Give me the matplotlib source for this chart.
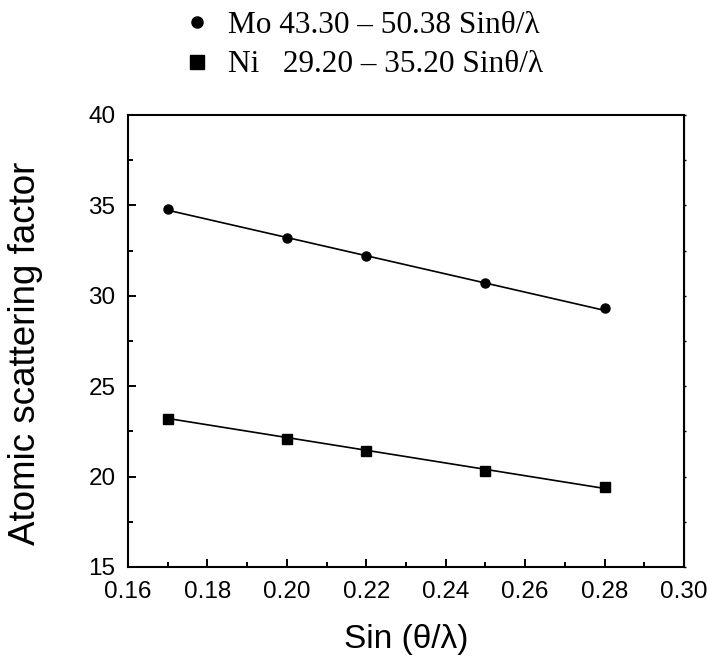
"""
Atomic scattering factor of Mo and Ni against sin(theta)/lambda
"""
import numpy as np
import matplotlib
matplotlib.use("Agg")
import matplotlib.pyplot as plt
from matplotlib.lines import Line2D

# measured points
sin_theta = [0.17, 0.20, 0.22, 0.25, 0.28]
mo_factor = [34.8, 33.2, 32.2, 30.7, 29.3]
ni_factor = [23.2, 22.1, 21.4, 20.3, 19.4]

# linear fits, f = a - b * sin(theta)/lambda
mo_fit = (43.30, 50.38)
ni_fit = (29.20, 35.20)

x_ticks = [0.16, 0.18, 0.20, 0.22, 0.24, 0.26, 0.28, 0.30]
y_ticks = [15, 20, 25, 30, 35, 40]

SANS = "Liberation Sans"
SERIF = "Liberation Serif"


def fit_line(ax, x, coef):
    """ Draw the fitted line a - b*x over the range of 'x' """
    xs = np.array([min(x), max(x)])
    ax.plot(xs, coef[0] - coef[1] * xs, color="black", lw=1.2, zorder=2)


fig = plt.figure(figsize=(7.08, 6.56), dpi=100)
ax = fig.add_axes([0.1808, 0.1357, 0.7853, 0.689])

ax.plot(sin_theta, mo_factor, ls="none", marker="o", ms=6.5,
        color="black", zorder=3)
ax.plot(sin_theta, ni_factor, ls="none", marker="s", ms=7,
        color="black", zorder=3)
fit_line(ax, sin_theta, mo_fit)
fit_line(ax, sin_theta, ni_fit)

ax.set_xlim(0.16, 0.30)
ax.set_ylim(15, 40)
ax.set_xticks(x_ticks)
ax.set_yticks(y_ticks)
ax.set_xticks(np.arange(0.17, 0.30, 0.02), minor=True)
ax.set_yticks(np.arange(17.5, 40, 5), minor=True)
ax.set_xticklabels([f"{t:.2f}" for t in x_ticks], family=SANS, fontsize=17.5)
ax.set_yticklabels([str(t) for t in y_ticks], family=SANS, fontsize=17.5)

ax.tick_params(which="both", direction="in", width=1.4, top=False, right=False)
ax.tick_params(which="major", length=6)
ax.tick_params(which="minor", length=3.5)
ax.tick_params(axis="y", pad=9)
ax.tick_params(axis="x", pad=10)
for side in ax.spines.values():
    side.set_linewidth(1.5)

# tiny ticks on the right frame
right = ax.secondary_yaxis("right")
right.set_yticks(y_ticks)
right.set_yticks(np.arange(17.5, 40, 5), minor=True)
right.tick_params(which="both", direction="out", length=1.5, width=1,
                  labelright=False)

ax.set_xlabel("Sin (θ/λ)", family=SANS, fontsize=24)
ax.set_ylabel("Atomic scattering factor", family=SANS, fontsize=26.5)
ax.xaxis.set_label_coords(0.5, -0.127)
ax.yaxis.set_label_coords(-0.153, 0.473)

handles = [
    Line2D([], [], ls="none", marker="o", ms=8, color="black"),
    Line2D([], [], ls="none", marker="s", ms=10.5, color="black"),
]
labels = [
    f"Mo {mo_fit[0]:.2f} – {mo_fit[1]:.2f} Sinθ/λ",
    f"Ni   {ni_fit[0]:.2f} – {ni_fit[1]:.2f} Sinθ/λ",
]
fig.legend(handles, labels, loc="upper left", bbox_to_anchor=(0.2562, 0.983),
           frameon=False, borderpad=0, borderaxespad=0, handlelength=1.0,
           handletextpad=0.5, labelspacing=0.33,
           prop={"family": SERIF, "size": 22.5})

fig.savefig("out.png", dpi=100)
